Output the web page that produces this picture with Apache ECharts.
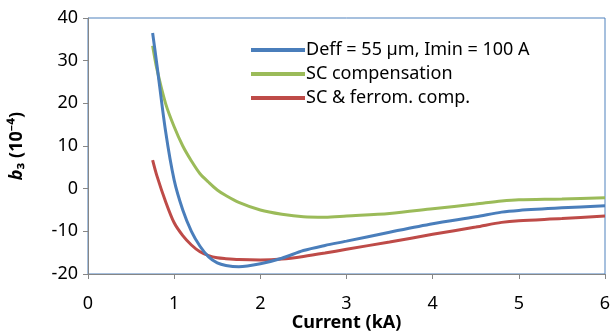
<!DOCTYPE html>
<html>
<head>
<meta charset="utf-8">
<script src="https://cdn.jsdelivr.net/npm/echarts@6/dist/echarts.min.js"></script>
<style>
  html, body { margin: 0; padding: 0; background: #fff; }
  #chart { width: 610px; height: 333px; }
</style>
</head>
<body>
<div id="chart"></div>
<script>
const currents = [0.75, 0.8, 0.9, 1.0, 1.1, 1.2, 1.3, 1.4, 1.5, 1.6, 1.75, 2.0, 2.25, 2.5, 2.75, 3.0, 3.5, 4.0, 4.5, 4.8, 5.0, 5.5, 6.0]
const deffValues = [36.5, 29, 13.5, 2, -5, -10, -13.5, -16, -17.4, -18, -18.3, -17.6, -16.3, -14.5, -13.3, -12.3, -10.2, -8.2, -6.6, -5.5, -5.1, -4.5, -4.0]
const scValues = [33.5, 28, 20, 14.5, 10, 6.5, 3.5, 1.5, -0.3, -1.6, -3.2, -5, -6, -6.6, -6.7, -6.4, -5.8, -4.7, -3.6, -2.9, -2.6, -2.4, -2.1]
const ferroValues = [6.7, 3, -3, -8, -11, -13.2, -14.8, -15.7, -16.2, -16.4, -16.6, -16.7, -16.5, -15.9, -15.1, -14.2, -12.5, -10.7, -9, -7.9, -7.5, -7, -6.4]
const seriesNames = ['Deff = 55 µm, Imin = 100 A', 'SC compensation', 'SC & ferrom. comp.']
const seriesColors = ['#4A7EBB', '#9BBB59', '#BE4B48']

const pairs = vals => currents.map((c, i) => [c, vals[i]])
const font = 'Noto Sans'
const axisGrey = '#868686'

const option = {
  animation: false,
  grid: {
    left: 88,
    right: 5,
    top: 18,
    bottom: 59,
    outerBoundsMode: 'none',
    containLabel: false,
    show: true,
    borderColor: '#4F81BD',
    borderWidth: 1
  },
  legend: {
    orient: 'vertical',
    left: 246,
    top: 36,
    icon: 'rect',
    itemWidth: 54,
    itemHeight: 4,
    itemGap: 6,
    textStyle: { fontFamily: font, fontSize: 18, lineHeight: 18, color: '#000', padding: [0, 0, 0, -4] },
    data: seriesNames
  },
  xAxis: {
    type: 'value',
    min: 0,
    max: 6,
    interval: 1,
    name: 'Current (kA)',
    nameLocation: 'middle',
    nameGap: 40,
    nameMoveOverlap: false,
    nameTextStyle: { fontFamily: font, fontSize: 18, fontWeight: 'bold', color: '#000' },
    axisLine: { show: true, onZero: false, lineStyle: { color: axisGrey, width: 1 } },
    axisTick: { show: true, inside: false, length: 5, lineStyle: { color: axisGrey } },
    axisLabel: { fontFamily: font, fontSize: 18, color: '#000', margin: 21 },
    splitLine: { show: false }
  },
  yAxis: {
    type: 'value',
    min: -20,
    max: 40,
    interval: 10,
    name: '{b|b}{n|₃ (10⁻⁴)}',
    nameLocation: 'middle',
    nameGap: 62,
    nameMoveOverlap: false,
    nameRotate: 90,
    nameTextStyle: {
      rich: {
        b: { fontFamily: font, fontSize: 18, fontWeight: 'bold', fontStyle: 'italic', color: '#000' },
        n: { fontFamily: font, fontSize: 18, fontWeight: 'bold', color: '#000' }
      }
    },
    axisLine: { show: true, lineStyle: { color: axisGrey, width: 1 } },
    axisTick: { show: true, inside: false, length: 5, lineStyle: { color: axisGrey } },
    axisLabel: { fontFamily: font, fontSize: 18, color: '#000', margin: 10 },
    splitLine: { show: false }
  },
  series: [deffValues, scValues, ferroValues].map((vals, i) => ({
    name: seriesNames[i],
    type: 'line',
    data: pairs(vals),
    smooth: 0.3,
    showSymbol: false,
    symbol: 'none',
    color: seriesColors[i],
    lineStyle: { width: 3, color: seriesColors[i] },
    z: 3 - i
  }))
}

const myChart = echarts.init(document.getElementById('chart'), null, { renderer: 'canvas' })
myChart.setOption(option)
</script>
</body>
</html>
